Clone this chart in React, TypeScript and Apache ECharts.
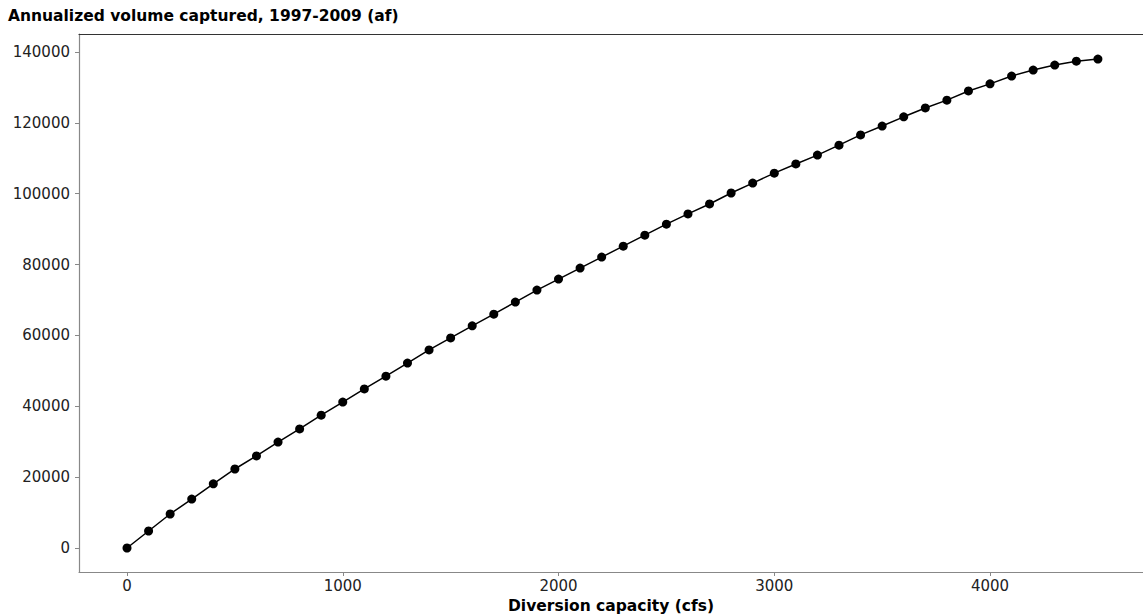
import React, { useEffect, useRef } from "react";
import * as echarts from "echarts";

const capacities = [0, 100, 200, 300, 400, 500, 600, 700, 800, 900, 1000, 1100, 1200, 1300, 1400, 1500, 1600, 1700, 1800, 1900, 2000, 2100, 2200, 2300, 2400, 2500, 2600, 2700, 2800, 2900, 3000, 3100, 3200, 3300, 3400, 3500, 3600, 3700, 3800, 3900, 4000, 4100, 4200, 4300, 4400, 4500];
const volumes = [0, 4800, 9600, 13800, 18100, 22300, 26000, 29900, 33600, 37500, 41200, 44900, 48500, 52200, 55900, 59300, 62700, 66000, 69400, 72800, 75900, 79000, 82100, 85200, 88300, 91400, 94300, 97100, 100200, 103000, 105800, 108400, 110900, 113700, 116600, 119100, 121700, 124200, 126400, 129000, 131000, 133200, 134900, 136300, 137400, 138000];
const xTicks = [0, 1000, 2000, 3000, 4000];
const yTicks = [0, 20000, 40000, 60000, 80000, 100000, 120000, 140000];

const titleText = "Annualized volume captured, 1997-2009 (af)";
const xName = "Diversion capacity (cfs)";

export default function App() {
  const ref = useRef<HTMLDivElement>(null);
  useEffect(() => {
    if (!ref.current) return;
    const chart = echarts.init(ref.current, null, { renderer: "svg" });
    const font = "DejaVu Sans";
    chart.setOption({
      animation: false,
      backgroundColor: "#ffffff",
      title: {
        text: titleText,
        left: 8,
        top: 8,
        padding: 0,
        textStyle: { fontFamily: font, fontWeight: "bold", fontSize: 15.5, color: "#000" },
      },
      grid: { left: 79, top: 34, right: 0, bottom: 43, containLabel: false, outerBoundsMode: "none" },
      xAxis: [
        {
          type: "value",
          min: -222.5,
          max: 4709,
          position: "bottom",
          name: xName,
          nameLocation: "middle",
          nameGap: 25,
          nameTextStyle: { fontFamily: font, fontWeight: "bold", fontSize: 15.5, color: "#000" },
          axisLine: { show: true, onZero: false, lineStyle: { color: "#888", width: 1.2 } },
          axisTick: { show: true, length: 4, customValues: xTicks, lineStyle: { color: "#888" } },
          axisLabel: {
            customValues: xTicks,
            fontFamily: font,
            fontSize: 15,
            color: "#222",
            margin: 6,
            formatter: (v: number) => String(v),
          },
          splitLine: { show: false },
        },
        {
          type: "value",
          min: -222.5,
          max: 4709,
          position: "top",
          axisLine: { show: true, onZero: false, lineStyle: { color: "#333", width: 1.2 } },
          axisTick: { show: false },
          axisLabel: { show: false },
          splitLine: { show: false },
        },
      ],
      yAxis: {
        type: "value",
        min: -6774,
        max: 145075,
        axisLine: { show: true, onZero: false, lineStyle: { color: "#888", width: 1.2 } },
        axisTick: { show: true, length: 4, customValues: yTicks, lineStyle: { color: "#888" } },
        axisLabel: {
          customValues: yTicks,
          fontFamily: font,
          fontSize: 15,
          color: "#222",
          margin: 9,
          formatter: (v: number) => String(v),
        },
        splitLine: { show: false },
      },
      series: [
        {
          type: "line",
          xAxisIndex: 0,
          data: capacities.map((c, i) => [c, volumes[i]]),
          symbol: "circle",
          symbolSize: 9,
          showSymbol: true,
          itemStyle: { color: "#000" },
          lineStyle: { color: "#000", width: 1.5 },
        },
      ],
    });
    return () => chart.dispose();
  }, []);
  return (
    <div
      ref={ref}
      style={{ position: "fixed", left: 0, top: 0, width: 1143, height: 615 }}
    />
  );
}
